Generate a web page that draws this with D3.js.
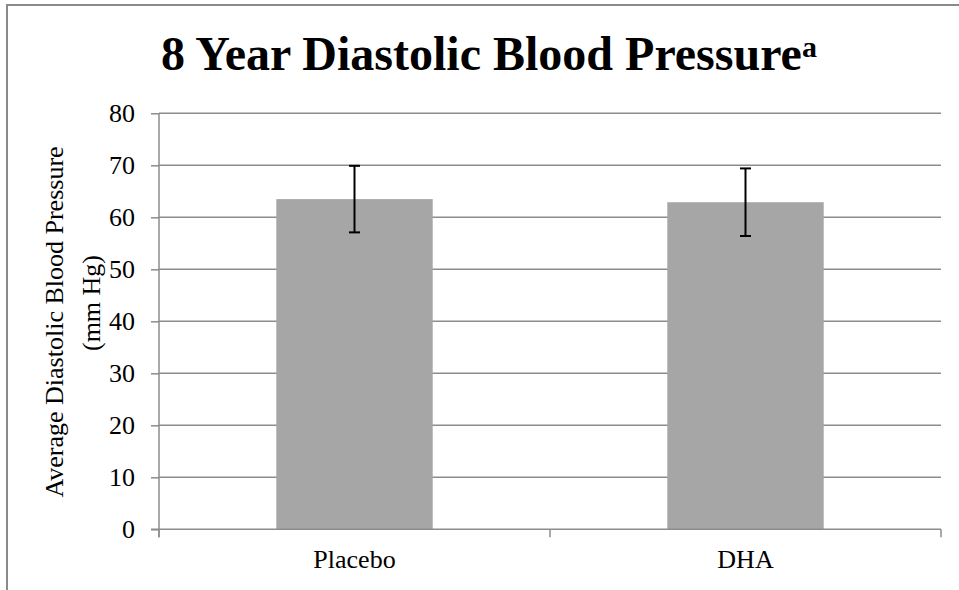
<!DOCTYPE html>
<html>
<head>
<meta charset="utf-8">
<script src="https://cdn.jsdelivr.net/npm/d3@7"></script>
<style>
  body { margin: 0; background: #fff; }
  svg { display: block; font-family: "Liberation Serif", "Times New Roman", serif; }
</style>
</head>
<body>
<div id="chart"></div>
<script>
var groups = ["Placebo", "DHA"];
var means = [63.5, 62.9];
var errors = [6.4, 6.5];
var yTicks = [0, 10, 20, 30, 40, 50, 60, 70, 80];

var width = 959, height = 590;
var margin = {top: 113.3, right: 18, bottom: 60.7, left: 159};

var svg = d3.select("#chart").append("svg")
    .attr("width", width)
    .attr("height", height);

// outer chart frame (clipped at right and bottom like the original)
svg.append("rect")
    .attr("x", 7).attr("y", 5)
    .attr("width", 1000).attr("height", 700)
    .attr("fill", "none")
    .attr("stroke", "#8a8a8a")
    .attr("stroke-width", 2);

var x = d3.scaleBand()
    .domain(groups)
    .range([margin.left, width - margin.right])
    .paddingInner(0.6)
    .paddingOuter(0.3);

var y = d3.scaleLinear()
    .domain([0, 80])
    .range([height - margin.bottom, margin.top]);

var gridColor = "#8c8c8c";

// gridlines + y ticks
var yAxis = svg.append("g")
    .attr("transform", "translate(" + margin.left + ",0)")
    .call(d3.axisLeft(y).tickValues(yTicks).tickSize(8).tickPadding(16));
yAxis.select(".domain").remove();
yAxis.selectAll("line").attr("stroke", gridColor).attr("stroke-width", 1.5);
yAxis.selectAll("text")
    .attr("font-size", 26)
    .attr("font-family", "Liberation Serif, Times New Roman, serif")
    .attr("fill", "#000");

svg.append("g").selectAll("line")
    .data(yTicks.filter(function(d) { return d > 0; }))
    .enter().append("line")
    .attr("x1", margin.left).attr("x2", width - margin.right)
    .attr("y1", function(d) { return y(d); })
    .attr("y2", function(d) { return y(d); })
    .attr("stroke", gridColor)
    .attr("stroke-width", 1.5);

// bars
svg.append("g").selectAll("rect")
    .data(groups)
    .enter().append("rect")
    .attr("x", function(d) { return x(d); })
    .attr("width", x.bandwidth())
    .attr("y", function(d, i) { return y(means[i]); })
    .attr("height", function(d, i) { return y(0) - y(means[i]); })
    .attr("fill", "#a6a6a6");

// vertical axis line
svg.append("line")
    .attr("x1", margin.left).attr("x2", margin.left)
    .attr("y1", y(80)).attr("y2", y(0) + 8)
    .attr("stroke", gridColor).attr("stroke-width", 1.5);

// x axis
var step = x.step();
var xTickPos = [margin.left, margin.left + step * 1, margin.left + step * 2];
var xAxis = svg.append("g");
xAxis.append("line")
    .attr("x1", margin.left - 8).attr("x2", width - margin.right)
    .attr("y1", y(0)).attr("y2", y(0))
    .attr("stroke", gridColor).attr("stroke-width", 1.5);
xAxis.selectAll(".tk")
    .data(xTickPos)
    .enter().append("line")
    .attr("class", "tk")
    .attr("x1", function(d) { return d; })
    .attr("x2", function(d) { return d; })
    .attr("y1", y(0)).attr("y2", y(0) + 8)
    .attr("stroke", gridColor).attr("stroke-width", 1.5);
xAxis.selectAll("text")
    .data(groups)
    .enter().append("text")
    .attr("x", function(d) { return x(d) + x.bandwidth() / 2; })
    .attr("y", 568)
    .attr("text-anchor", "middle")
    .attr("font-size", 26)
    .text(function(d) { return d; });

// error bars
var eb = svg.append("g").attr("stroke", "#000").attr("stroke-width", 2);
groups.forEach(function(g, i) {
  var cx = x(g) + x.bandwidth() / 2;
  var hi = y(means[i] + errors[i]), lo = y(means[i] - errors[i]);
  eb.append("line").attr("x1", cx).attr("x2", cx).attr("y1", hi).attr("y2", lo);
  eb.append("line").attr("x1", cx - 5.5).attr("x2", cx + 5.5).attr("y1", hi).attr("y2", hi);
  eb.append("line").attr("x1", cx - 5.5).attr("x2", cx + 5.5).attr("y1", lo).attr("y2", lo);
});

// y axis title (two lines)
svg.append("text")
    .attr("transform", "translate(63,322) rotate(-90)")
    .attr("text-anchor", "middle")
    .attr("font-size", 26)
    .text("Average Diastolic Blood Pressure");
svg.append("text")
    .attr("transform", "translate(100,303) rotate(-90)")
    .attr("text-anchor", "middle")
    .attr("font-size", 26)
    .text("(mm Hg)");

// title
var title = svg.append("text")
    .attr("x", 489)
    .attr("y", 70)
    .attr("text-anchor", "middle")
    .attr("font-size", 48)
    .attr("font-weight", "bold");
title.append("tspan").text("8 Year Diastolic Blood Pressure");
title.append("tspan")
    .attr("font-size", 30)
    .attr("dy", -13)
    .text("a");
</script>
</body>
</html>
